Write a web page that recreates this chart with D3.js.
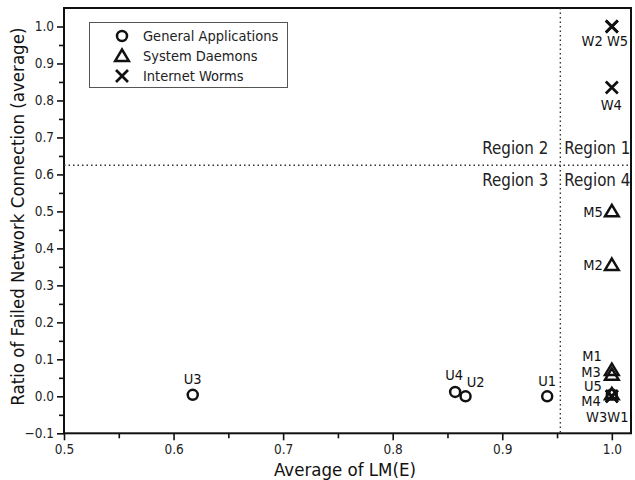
<!DOCTYPE html>
<html>
<head>
<meta charset="utf-8">
<script src="https://cdn.jsdelivr.net/npm/d3@7"></script>
<style>
  html, body { margin: 0; padding: 0; background: #fff; }
  svg { display: block; font-family: "DejaVu Sans Condensed", "DejaVu Sans", sans-serif; font-stretch: condensed; }
</style>
</head>
<body>
<svg id="chart" width="635" height="480"></svg>
<script>
// General applications (U), system daemons (M), internet worms (W)
const appNames = ["U1", "U2", "U3", "U4", "U5"];
const appLM    = [0.941, 0.8665, 0.6175, 0.857, 1.0];
const appFail  = [0.0, 0.0, 0.004, 0.012, 0.005];

const daemonNames = ["M1", "M2", "M3", "M4", "M5"];
const daemonLM    = [1.0, 1.0, 1.0, 1.0, 1.0];
const daemonFail  = [0.071, 0.355, 0.058, 0.005, 0.5];

const wormNames = ["W1", "W2", "W3", "W4", "W5"];
const wormLM    = [1.0, 1.0, 1.0, 1.0, 1.0];
const wormFail  = [0.0, 1.0, 0.0, 0.835, 1.0];

const xTicks = [0.5, 0.6, 0.7, 0.8, 0.9, 1.0];
const yTicks = [-0.1, 0.0, 0.1, 0.2, 0.3, 0.4, 0.5, 0.6, 0.7, 0.8, 0.9, 1.0];

// Region boundaries
const lmThreshold = 0.953;
const failThreshold = 0.625;

const legendLabels = ["General Applications", "System Daemons", "Internet Worms"];

const W = 635, H = 480;
const margin = { top: 8, right: 4, bottom: 46.7, left: 64 };
const svg = d3.select("#chart");

const x = d3.scaleLinear().domain([0.5, 1.0175]).range([margin.left, W - margin.right]);
const y = d3.scaleLinear().domain([-0.1, 1.05]).range([H - margin.bottom, margin.top]);

const ink = "#111";
const tickFont = 13.5;

// Minor ticks halfway between majors
const xMinor = d3.range(0.55, 1.0, 0.1);
const yMinor = d3.range(-0.05, 1.0, 0.1);

const xAxisG = svg.append("g").attr("transform", `translate(0,${H - margin.bottom})`);
xAxisG.call(d3.axisBottom(x).tickValues(xMinor).tickSize(5).tickFormat(""));
xAxisG.append("g").call(d3.axisBottom(x).tickValues(xTicks).tickSize(7).tickPadding(4).tickFormat(d3.format(".1f")));
xAxisG.selectAll(".domain").remove();
xAxisG.selectAll("line").attr("stroke", ink).attr("stroke-width", 1.6);
xAxisG.selectAll("text").attr("fill", "#222").attr("font-size", tickFont).attr("font-family", "DejaVu Sans Condensed, DejaVu Sans, sans-serif");

const yAxisG = svg.append("g").attr("transform", `translate(${margin.left},0)`);
yAxisG.call(d3.axisLeft(y).tickValues(yMinor).tickSize(5).tickFormat(""));
yAxisG.append("g").call(d3.axisLeft(y).tickValues(yTicks).tickSize(7).tickPadding(3).tickFormat(d3.format(".1f")));
yAxisG.selectAll(".domain").remove();
yAxisG.selectAll("line").attr("stroke", ink).attr("stroke-width", 1.6);
yAxisG.selectAll("text").attr("fill", "#222").attr("font-size", tickFont).attr("font-family", "DejaVu Sans Condensed, DejaVu Sans, sans-serif");

// Plot frame
svg.append("rect")
  .attr("x", margin.left).attr("y", margin.top)
  .attr("width", W - margin.right - margin.left)
  .attr("height", H - margin.bottom - margin.top)
  .attr("fill", "none").attr("stroke", ink).attr("stroke-width", 2);

// Region divider lines
svg.append("line")
  .attr("x1", x(0.5)).attr("x2", W - margin.right)
  .attr("y1", y(failThreshold)).attr("y2", y(failThreshold))
  .attr("stroke", "#333").attr("stroke-width", 1.4).attr("stroke-dasharray", "1.5,3");
svg.append("line")
  .attr("x1", x(lmThreshold)).attr("x2", x(lmThreshold))
  .attr("y1", margin.top).attr("y2", H - margin.bottom)
  .attr("stroke", "#333").attr("stroke-width", 1.4).attr("stroke-dasharray", "1.5,3");

// Region labels
const regionFont = 16.8;
const yr = y(failThreshold);
const xr = x(lmThreshold);
[["Region 2", xr - 12, yr - 11, "end"], ["Region 1", xr + 4, yr - 11, "start"],
 ["Region 3", xr - 12, yr + 21, "end"], ["Region 4", xr + 4, yr + 21, "start"]]
  .forEach(([t, tx, ty, anchor]) => {
    svg.append("text").attr("x", tx).attr("y", ty).attr("text-anchor", anchor)
      .attr("font-size", regionFont).attr("fill", "#222").text(t);
  });

// Marker shapes
function drawMarker(g, kind, cx, cy) {
  if (kind === "circle") {
    g.append("circle").attr("cx", cx).attr("cy", cy).attr("r", 5)
      .attr("fill", "none").attr("stroke", ink).attr("stroke-width", 2.5);
  } else if (kind === "triangle") {
    const s = 6.5;
    g.append("path")
      .attr("d", `M${cx},${cy - s} L${cx + s * 1.05},${cy + s * 0.75} L${cx - s * 1.05},${cy + s * 0.75} Z`)
      .attr("fill", "none").attr("stroke", ink).attr("stroke-width", 2.5).attr("stroke-linejoin", "miter");
  } else {
    const s = 6;
    g.append("path")
      .attr("d", `M${cx - s},${cy - s} L${cx + s},${cy + s} M${cx - s},${cy + s} L${cx + s},${cy - s}`)
      .attr("fill", "none").attr("stroke", ink).attr("stroke-width", 2.7);
  }
}

const series = [
  { kind: "circle", names: appNames, xs: appLM, ys: appFail },
  { kind: "triangle", names: daemonNames, xs: daemonLM, ys: daemonFail },
  { kind: "cross", names: wormNames, xs: wormLM, ys: wormFail }
];

const marks = svg.append("g");
series.forEach(s => {
  s.names.forEach((n, i) => drawMarker(marks, s.kind, x(s.xs[i]), y(s.ys[i])));
});

// Point labels, placed relative to each marker: [dx, dy, anchor]
const labelFont = 14.5;
const place = {
  U1: [0, -10, "middle"], U2: [10, -9, "middle"], U3: [0, -11, "middle"], U4: [-1, -11.5, "middle"], U5: [-10, -3, "end"],
  M1: [-10, -9.4, "end"], M2: [-9, 5, "end"], M3: [-11, 1.8, "end"], M4: [-11, 12, "end"], M5: [-9, 5.5, "end"]
};
const labels = svg.append("g").attr("font-size", labelFont).attr("fill", "#111");
series.slice(0, 2).forEach(s => {
  s.names.forEach((n, i) => {
    const [dx, dy, anchor] = place[n];
    labels.append("text").attr("x", x(s.xs[i]) + dx).attr("y", y(s.ys[i]) + dy)
      .attr("text-anchor", anchor).text(n);
  });
});
// Worms sharing a position get one combined label beneath the marker
const wormGroups = d3.groups(wormNames.map((n, i) => ({ n, lx: wormLM[i], ly: wormFail[i] })), d => d.ly);
const wormLabelText = { 0: "W3W1", 1: "W2 W5" };
const wormOffset = { 0: [-4.5, 25.4], 1: [-7, 20], 0.835: [-0.5, 22.3] };
wormGroups.forEach(([fy, pts]) => {
  const text = wormLabelText[fy] || pts.map(p => p.n).join(" ");
  const [dx, dy] = wormOffset[fy];
  labels.append("text").attr("x", x(pts[0].lx) + dx).attr("y", y(fy) + dy)
    .attr("text-anchor", "middle").text(text);
});

// Legend
const lg = svg.append("g");
lg.append("rect").attr("x", 89.5).attr("y", 22.5).attr("width", 198).attr("height", 65)
  .attr("fill", "#fff").attr("stroke", "#555").attr("stroke-width", 1);
["circle", "triangle", "cross"].forEach((k, i) => {
  const cy = 36 + i * 20;
  drawMarker(lg, k, 122, cy);
  lg.append("text").attr("x", 143).attr("y", cy + 5).attr("font-size", 14.5).attr("fill", "#222").text(legendLabels[i]);
});

// Axis titles
svg.append("text").attr("x", 345).attr("y", 476)
  .attr("text-anchor", "middle").attr("font-size", 18.5).attr("fill", "#111").text("Average of LM(E)");
svg.append("text").attr("transform", `translate(24,${(margin.top + H - margin.bottom) / 2 - 4}) rotate(-90)`)
  .attr("text-anchor", "middle").attr("font-size", 18.5).attr("fill", "#111")
  .text("Ratio of Failed Network Connection (average)");
</script>
</body>
</html>
